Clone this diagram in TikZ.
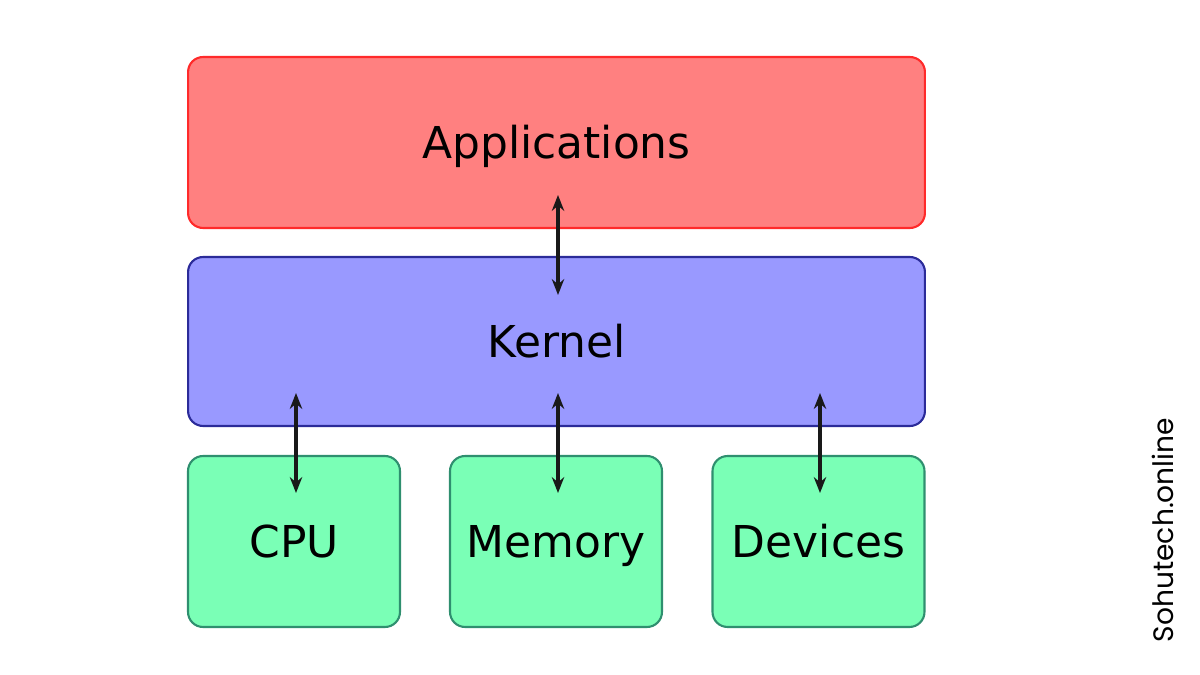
\documentclass[tikz,border=0pt]{standalone}
\usepackage{fontspec}
\setmainfont{DejaVu Sans}
\newfontfamily\markfont{Poppins}
\usetikzlibrary{arrows.meta}
\tikzset{%
  layer/.style={draw,rounded corners=0.3cm,line width=1.2pt,inner sep=0pt,
    font=\fontsize{25}{28}\selectfont,text height=1.9em,text depth=0.1em},
  link/.style={{Stealth[length=9pt,width=7pt]}-{Stealth[length=9pt,width=7pt]},
    line width=2.2pt,black!90}
}
\definecolor{appfill}{HTML}{FF8080}
\definecolor{appline}{HTML}{FF2A2A}
\definecolor{kerfill}{HTML}{9999FF}
\definecolor{kerline}{HTML}{2B2B99}
\definecolor{hwfill}{HTML}{7AFFB6}
\definecolor{hwline}{HTML}{2F8F6F}
\begin{document}
\begin{tikzpicture}[x=0.02cm,y=-0.02cm]

%% frame
\useasboundingbox (0,0) rectangle (1200,675);

%% layers
\node[layer,fill=appfill,draw=appline,minimum width=14.74cm,minimum height=3.42cm]
  (apps) at (556.5,142.5) {Applications};
\node[layer,fill=kerfill,draw=kerline,minimum width=14.74cm,minimum height=3.38cm]
  (kernel) at (556.5,341.5) {Kernel};
\foreach \name/\txt/\x in {cpu/CPU/294,mem/Memory/556,dev/Devices/818.5}
  \node[layer,fill=hwfill,draw=hwline,minimum width=4.24cm,minimum height=3.42cm]
    (\name) at (\x,541.5) {\txt};

%% arrow ends
\coordinate (a1) at (558,195);
\coordinate (k1) at (558,295);
\foreach \name/\x in {cpu/296,mem/558,dev/820} {
  \coordinate (k-\name) at (\x,393);
  \coordinate (h-\name) at (\x,493);
}

%% links
\draw[link] (a1) -- (k1);
\foreach \name in {cpu,mem,dev}
  \draw[link] (k-\name) -- (h-\name);

%% watermark
\node[rotate=90,font=\markfont\fontsize{16}{18}\selectfont] (mark) at (1163,530)
  {Sohutech.online};

\end{tikzpicture}
\end{document}
